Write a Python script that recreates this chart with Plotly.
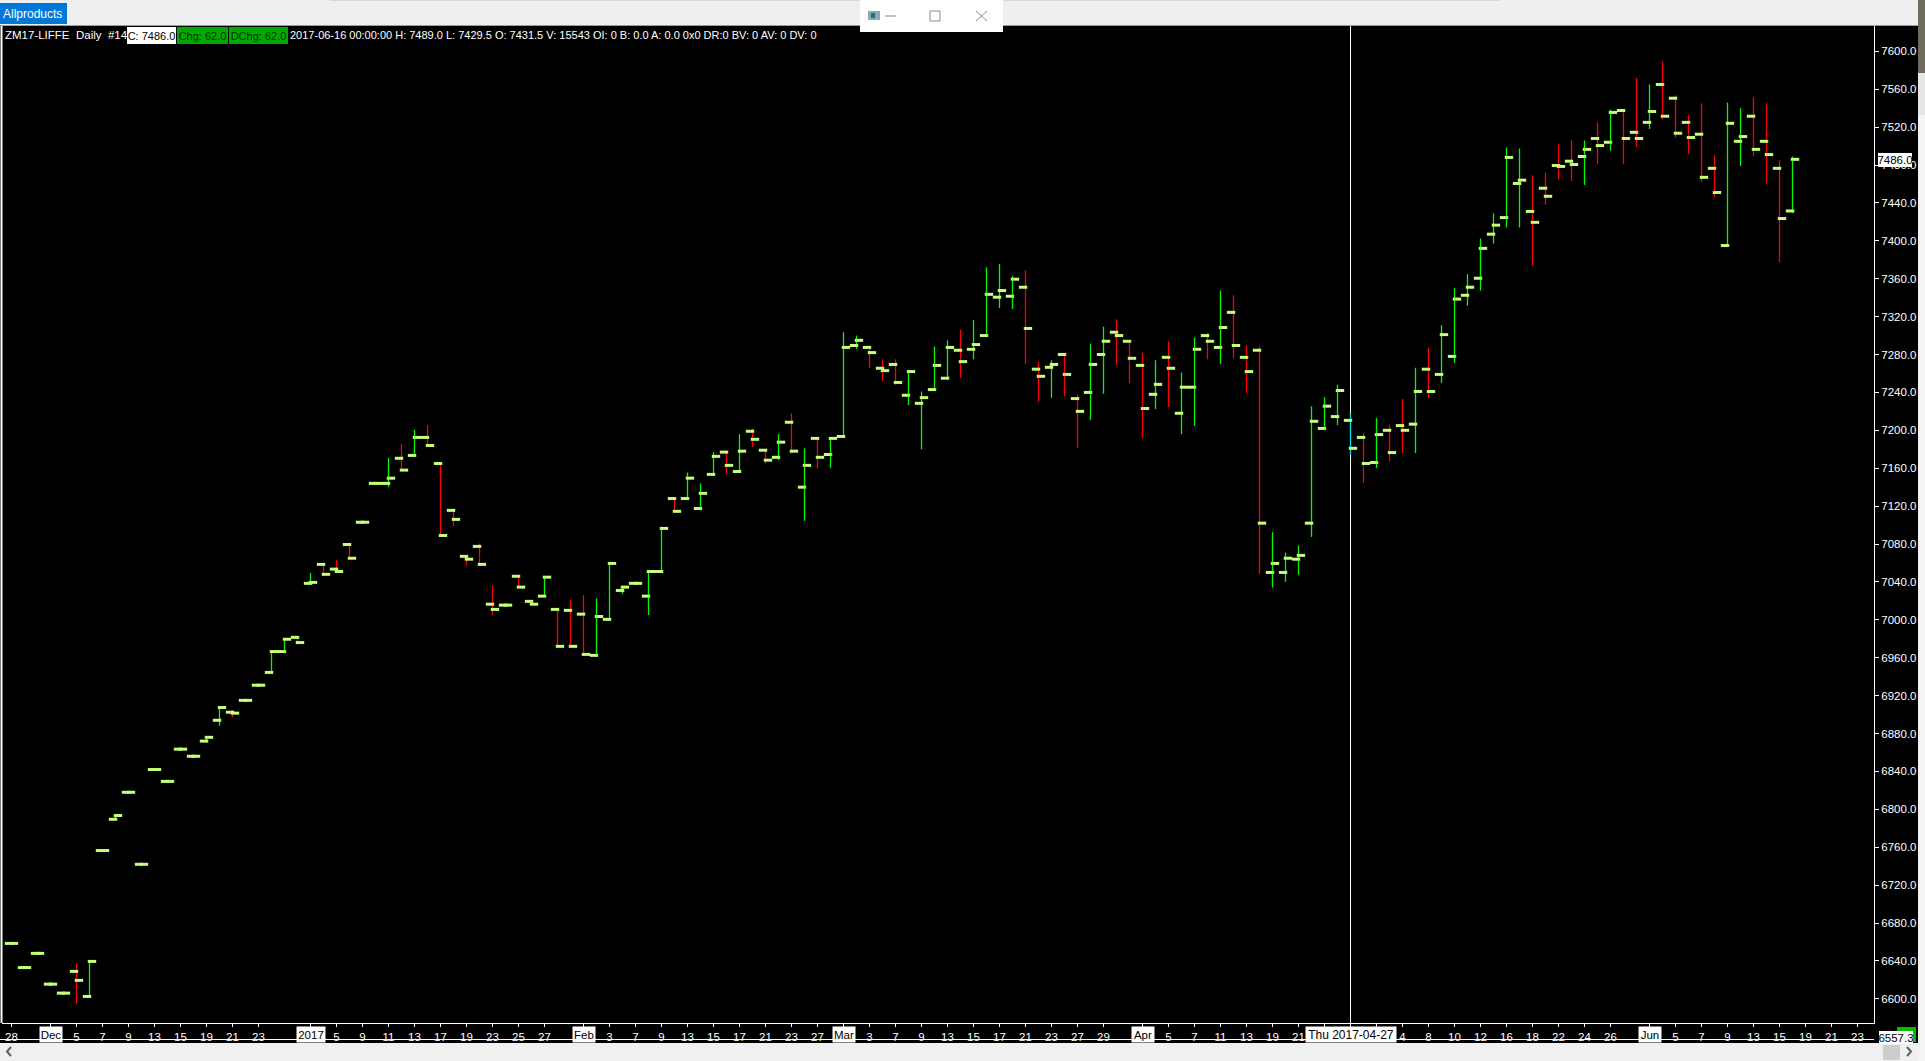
import plotly.graph_objects as go

# Daily OHLC for ZM17-LIFFE, one entry per trading bar
opens = [6658.5, 6633, 6648, 6615.5, 6606, 6629, 6602.5, 6756.5, 6789.5, 6818, 6742, 6842, 6829.5, 6863.5, 6856, 6872, 6894, 6902.5, 6915, 6931,
         6944.5, 6966.5, 6981.5, 7038.5, 7058.5, 7053.5, 7079.5, 7103, 7144, 7144, 7170.5, 7173.5, 7192.5, 7165, 7115.5, 7067, 7077.5, 7016.5, 7015.5, 7046,
         7019.5, 7025, 7011, 7010, 7006, 6962.5, 7000.5, 7031, 7038.5, 7025, 7051, 7128, 7128, 7117.5, 7153.5, 7177, 7156.5, 7199, 7179, 7171.5,
         7208.5, 7140, 7191.5, 7174.5, 7193.5, 7289.5, 7287.5, 7265.5, 7269.5, 7237, 7228.5, 7243, 7255, 7284.5, 7285.5, 7300, 7340.5, 7341.5, 7351, 7264.5,
         7266.5, 7280, 7233.5, 7240, 7280, 7303.5, 7294, 7268.5, 7238, 7277, 7218, 7245.5, 7300, 7287.5, 7324.5, 7277, 7284.5, 7050, 7050, 7064,
         7102, 7202, 7214.5, 7210.5, 7192.5, 7166, 7200, 7205, 7206.5, 7264.5, 7259, 7278, 7342.5, 7360.5, 7407, 7424.5, 7460.5, 7431, 7455.5, 7479.5,
         7484, 7489, 7508, 7504, 7537.5, 7514.5, 7525, 7565, 7550.5, 7525, 7512.5, 7476.5, 7395, 7505, 7531.5, 7505, 7476.5, 7431.5]
highs = [6658.5, 6633, 6648, 6615.5, 6606, 6637, 6640, 6756.5, 6793.5, 6818, 6742, 6842, 6829.5, 6863.5, 6856, 6876, 6907.5, 6904.5, 6915, 6931,
         6966.5, 6979.5, 6981.5, 7049.5, 7058.5, 7063, 7079.5, 7103, 7144, 7171, 7185.5, 7200.5, 7205.5, 7165, 7115.5, 7067, 7080.5, 7036.5, 7015.5, 7046,
         7019.5, 7045, 7011, 7021, 7026, 7022.5, 7059.5, 7034.5, 7038.5, 7051, 7096.5, 7128, 7155.5, 7144, 7177, 7177, 7196, 7202, 7179, 7196,
         7218, 7181, 7191.5, 7191.5, 7303.5, 7300, 7289.5, 7275, 7275, 7262, 7241, 7288.5, 7295, 7306.5, 7316.5, 7372, 7375.5, 7363, 7369, 7272,
         7274, 7280, 7238, 7291.5, 7309.5, 7317, 7294, 7282, 7274, 7294, 7261, 7298, 7302.5, 7347.5, 7342.5, 7289.5, 7288.5, 7092.5, 7071, 7078.5,
         7225.5, 7235, 7248, 7218, 7197, 7213, 7205.5, 7233, 7266, 7287, 7311, 7350, 7365, 7402.5, 7429, 7498.5, 7497.5, 7469, 7472, 7502,
         7506, 7506, 7525, 7538.5, 7537.5, 7572, 7565, 7589.5, 7553.5, 7532.5, 7545, 7490, 7546, 7540, 7551.5, 7545, 7485, 7489]
lows = [6658.5, 6633, 6648, 6615.5, 6606, 6595, 6602.5, 6756.5, 6789.5, 6818, 6742, 6842, 6829.5, 6863.5, 6856, 6872, 6888, 6897, 6915, 6931,
        6944.5, 6966.5, 6976, 7038.5, 7048, 7051, 7065, 7103, 7144, 7140, 7158, 7173.5, 7184, 7089, 7099, 7057.5, 7057.5, 7004.5, 7015.5, 7034.5,
        7016.5, 7025, 6972, 6972, 6963.5, 6962.5, 7000.5, 7027.5, 7038.5, 7005, 7051, 7114.5, 7128, 7117.5, 7153.5, 7154, 7156.5, 7182.5, 7165, 7168.5,
        7175.5, 7104.5, 7159.5, 7160.5, 7193.5, 7286, 7265.5, 7252, 7248, 7226.5, 7180, 7243, 7255, 7255.5, 7275, 7300, 7329, 7328, 7270, 7230,
        7234, 7236, 7181.5, 7211, 7238.5, 7269, 7250, 7192, 7222.5, 7224.5, 7196, 7204.5, 7275, 7270, 7276.5, 7239.5, 7048.5, 7034, 7040, 7047.5,
        7087.5, 7202, 7205.5, 7174, 7144.5, 7160, 7167.5, 7176, 7176, 7234, 7250, 7271, 7331.5, 7347.5, 7397, 7414, 7414, 7373.5, 7438, 7465,
        7463, 7459, 7481, 7495, 7481, 7499, 7518, 7529, 7509, 7491.5, 7462, 7446, 7395, 7479, 7489.5, 7460, 7377.5, 7429.5]
closes = [6658.5, 6633, 6648, 6615.5, 6606, 6619.5, 6639.5, 6756.5, 6793.5, 6818, 6742, 6842, 6829.5, 6863.5, 6856, 6876, 6907.5, 6901.5, 6915, 6931,
          6966.5, 6979.5, 6976, 7039.5, 7048, 7051, 7065, 7103, 7144, 7149.5, 7158, 7192.5, 7184, 7089, 7106, 7064, 7058.5, 7011, 7015.5, 7034.5,
          7016.5, 7045, 6972, 6972, 6963.5, 7003.5, 7059.5, 7034.5, 7038.5, 7051, 7096.5, 7114.5, 7149.5, 7133.5, 7172.5, 7163, 7178, 7190.5, 7168.5, 7187.5,
          7178, 7163, 7171.5, 7191.5, 7287.5, 7295, 7282, 7263, 7250.5, 7262, 7234.5, 7268.5, 7287.5, 7272.5, 7290.5, 7343.5, 7347.5, 7359.5, 7307.5, 7257,
          7269.5, 7259, 7220, 7269.5, 7294, 7300, 7276, 7223, 7248.5, 7265.5, 7245.5, 7285.5, 7294, 7308.5, 7289.5, 7262, 7102, 7059.5, 7065, 7068,
          7209.5, 7225.5, 7242, 7181, 7165, 7195.5, 7176.5, 7200, 7241, 7241, 7301, 7338.5, 7351, 7392, 7416.5, 7488, 7464, 7419.5, 7447, 7478.5,
          7480.5, 7496.5, 7500.5, 7535.5, 7508, 7508, 7536.5, 7531.5, 7513.5, 7509, 7467, 7451, 7524, 7510, 7496.5, 7491, 7423.5, 7486]

# Date axis: bar number of each tick and what it shows
tick_bars = [0, 3, 5, 7, 9, 11, 13, 15, 17, 19, 23, 25, 27, 29, 31, 33, 35, 37, 39, 41, 44, 46, 48, 50, 52, 54, 56, 58, 60, 62,
             64, 66, 68, 70, 72, 74, 76, 78, 80, 82, 84, 87, 89, 91, 93, 95, 97, 99, 101, 103, 105, 107, 109, 111, 113, 115, 117, 119, 121, 123,
             126, 128, 130, 132, 134, 136, 138, 140, 142]
tick_labels = ["28", "", "5", "7", "9", "13", "15", "19", "21", "23", "", "5", "9", "11", "13", "17", "19", "23", "25", "27", "", "3", "7", "9", "13", "15", "17", "21", "23", "27",
               "", "3", "7", "9", "13", "15", "17", "21", "23", "27", "29", "", "5", "7", "11", "13", "19", "21", "", "", "", "4", "8", "10", "12", "16", "18", "22", "24", "26",
               "", "5", "7", "9", "13", "15", "19", "21", "23"]
period_bars = [3, 23, 44, 64, 87, 126]
period_labels = ["Dec", "2017", "Feb", "Mar", "Apr", "Jun"]
cursor_bar = 103
cursor_label = "Thu 2017-04-27"
last_close_label = "7486.0"
range_low_label = "6557.3"
price_ticks = [6600 + 40 * k for k in range(26)]

FONT = "Liberation Sans, Arial, sans-serif"
AXIS_SIZE = 11.5
W, H = 1925, 1061
L, R, T, B = 2, 1874, 26, 1023
LIME = "#C3FF7A"
GREEN = "#00F800"
RED = "#FF0000"

def px(x):
    return (x - L) / (R - L)

def py(y):
    return (B - y) / (B - T)

bars = list(range(len(closes)))
fig = go.Figure()

def stems(idx, up, down):
    return go.Ohlc(
        x=idx,
        open=[opens[i] for i in idx], high=[highs[i] for i in idx],
        low=[lows[i] for i in idx], close=[closes[i] for i in idx],
        increasing=dict(line=dict(color=up, width=1.3)),
        decreasing=dict(line=dict(color=down, width=1.3)),
        tickwidth=0, showlegend=False, hoverinfo="skip",
    )

fig.add_trace(stems([i for i in bars if i != cursor_bar], GREEN, RED))
fig.add_trace(stems([cursor_bar], "#00E0F0", "#00E0F0"))
tick_marker = dict(symbol="line-ew", size=6, line=dict(color=LIME, width=3))
fig.add_trace(go.Scatter(x=[i - 0.19 for i in bars], y=opens, mode="markers", marker=tick_marker,
                         showlegend=False, hoverinfo="skip", cliponaxis=False))
fig.add_trace(go.Scatter(x=[i + 0.19 for i in bars], y=closes, mode="markers", marker=tick_marker,
                         showlegend=False, hoverinfo="skip", cliponaxis=False))

def rect(x0, y0, x1, y1, fill, layer="above"):
    return dict(type="rect", xref="paper", yref="paper", x0=px(x0), x1=px(x1), y0=py(y0), y1=py(y1),
                fillcolor=fill, line=dict(width=0), layer=layer)

def seg(x0, y0, x1, y1, color, width=1, layer="above"):
    return dict(type="line", xref="paper", yref="paper", x0=px(x0), x1=px(x1), y0=py(y0), y1=py(y1),
                line=dict(color=color, width=width), layer=layer)

shapes = [
    dict(type="line", xref="x", yref="paper", x0=cursor_bar, x1=cursor_bar, y0=0, y1=1,
         line=dict(color="#FFFFFF", width=1), layer="below"),
    rect(0, 0, 1918, 25, "#EFEFEF"),
    seg(0, 25.5, 1918, 25.5, "#9A9A9A"),
    rect(330, 0, 1500, 1, "#D8D8D8"),
    rect(0, 3, 67, 24, "#0078D7"),
    rect(860, 0, 1003, 32, "#FFFFFF"),
    rect(868, 11, 880, 20, "#8FA6B4"),
    rect(871, 13, 875, 18, "#1F6F8F"),
    seg(885, 16, 896, 16, "#8A8A8A"),
    dict(type="rect", xref="paper", yref="paper", x0=px(930), x1=px(940), y0=py(11), y1=py(21),
         line=dict(color="#8A8A8A", width=1), layer="above"),
    seg(976, 11, 987, 21, "#8A8A8A"),
    seg(976, 21, 987, 11, "#8A8A8A"),
    seg(1.5, 26, 1.5, 1023, "#FFFFFF", 2),
    seg(0, 1039.5, 1874, 1039.5, "#FFFFFF"),
    rect(0, 1043, 1918, 1061, "#F0F0F0"),
    rect(1883, 1045, 1900, 1060, "#CDCDCD"),
    dict(type="path", xref="paper", yref="paper", path=f"M {px(11)} {py(1047)} L {px(7)} {py(1051.5)} L {px(11)} {py(1056)}",
         line=dict(color="#606060", width=2), layer="above"),
    dict(type="path", xref="paper", yref="paper", path=f"M {px(1907)} {py(1047)} L {px(1911)} {py(1051.5)} L {px(1907)} {py(1056)}",
         line=dict(color="#606060", width=2), layer="above"),
    rect(1897, 1027, 1916, 1042, "#00C000"),
    rect(1918, 0, 1925, 73, "#6E6A5C"),
    rect(1918, 73, 1925, 115, "#E6E6E6"),
    rect(1918, 115, 1925, 1061, "#F4F4F6"),
]

def label(text, x, y, w=None, h=None, bg=None, color="#FFFFFF", size=11):
    a = dict(text=text, xref="paper", yref="paper", x=px(x), y=py(y), xanchor="left", yanchor="middle",
             showarrow=False, borderpad=0, borderwidth=0, font=dict(family=FONT, size=size, color=color))
    if w:
        a.update(width=w, align="center")
    if h:
        a.update(height=h, valign="middle")
    if bg:
        a.update(bgcolor=bg)
    return a

annotations = [
    label("Allproducts", 3, 14, size=12),
    label("ZM17-LIFFE\u00a0\u00a0Daily\u00a0\u00a0#14", 5, 35, size=11.5),
    label("C: 7486.0", 127, 35, w=49, h=17, bg="#FFFFFF", color="#000000"),
    label("Chg: 62.0", 177, 35, w=51, h=17, bg="#00AA00", color="#003300"),
    label("DChg: 62.0", 229, 35, w=59, h=17, bg="#00AA00", color="#003300"),
    label("2017-06-16 00:00:00 H: 7489.0 L: 7429.5 O: 7431.5 V: 15543 OI: 0 B: 0.0 A: 0.0 0x0 DR:0 BV: 0 AV: 0 DV: 0", 290, 35),
    label(last_close_label, 1878, 159.5, w=34, h=14, bg="#FFFFFF", color="#000000", size=AXIS_SIZE),
    label(range_low_label, 1879, 1037.5, w=34, h=13, bg="#FFFFFF", color="#000000", size=AXIS_SIZE),
]
for bar, text in zip(period_bars, period_labels):
    annotations.append(dict(text=text, xref="x", yref="paper", x=bar, y=py(1034.5), xanchor="center", yanchor="middle",
                            width=6 * len(text) + 4, height=15, bgcolor="#FFFFFF", showarrow=False,
                            borderpad=0, font=dict(family=FONT, size=AXIS_SIZE, color="#000000")))
annotations.append(dict(text=cursor_label, xref="x", yref="paper", x=cursor_bar, y=py(1034.5), xanchor="center", yanchor="middle",
                        width=90, height=15, bgcolor="#FFFFFF", showarrow=False,
                        borderpad=0, font=dict(family=FONT, size=12, color="#000000")))

fig.update_layout(
    width=W, height=H,
    margin=dict(l=L, r=W - R, t=T, b=H - B, pad=0, autoexpand=False),
    paper_bgcolor="#000000", plot_bgcolor="#000000",
    showlegend=False, hovermode=False,
    shapes=shapes, annotations=annotations,
    font=dict(family=FONT, size=AXIS_SIZE, color="#FFFFFF"),
    xaxis=dict(range=[-0.7308, 143.269], rangeslider=dict(visible=False), showgrid=False, zeroline=False,
               tickmode="array", tickvals=tick_bars, ticktext=tick_labels, ticks="outside", ticklen=3,
               tickcolor="#FFFFFF", tickwidth=1, showline=True, linecolor="#FFFFFF", linewidth=1,
               tickangle=0, tickfont=dict(family=FONT, size=AXIS_SIZE, color="#FFFFFF")),
    yaxis=dict(range=[6574.5, 7626.7], side="right", showgrid=False, zeroline=False,
               tickmode="array", tickvals=price_ticks, ticktext=[f"{v:.1f}" for v in price_ticks],
               ticks="outside", ticklen=4, tickcolor="#FFFFFF", tickwidth=1,
               showline=True, linecolor="#FFFFFF", linewidth=1,
               tickfont=dict(family=FONT, size=AXIS_SIZE, color="#FFFFFF")),
)

fig.write_html("out.html", config=dict(displayModeBar=False),
               post_script="document.body.style.margin='0';document.body.style.overflow='hidden';")
